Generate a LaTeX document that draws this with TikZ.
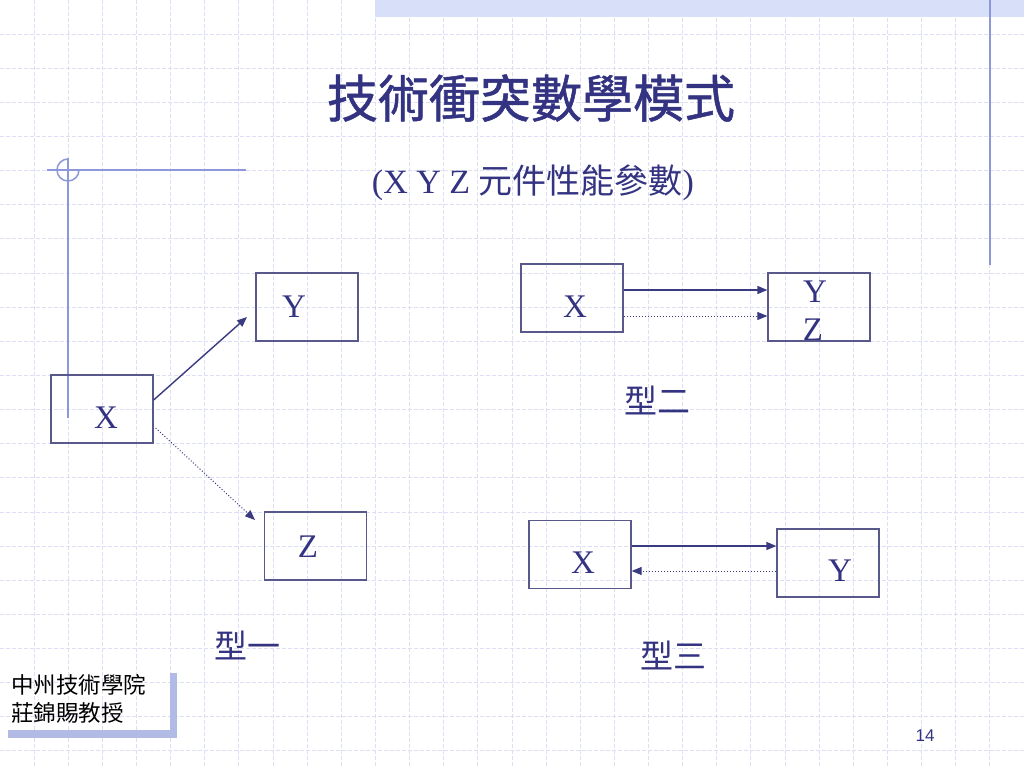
\documentclass[tikz,border=0pt]{standalone}
\usepackage{fontspec}
\setmainfont{Liberation Serif}
\newfontfamily\cjk{Noto Sans CJK TC}
\newfontfamily\cjkb[FakeBold=1]{Noto Sans CJK TC}
\newfontfamily\sansf{Liberation Sans}
\usetikzlibrary{arrows.meta}
\definecolor{gridc}{RGB}{220,223,243}
\definecolor{bandc}{RGB}{216,224,249}
\definecolor{decorc}{RGB}{140,152,218}
\definecolor{boxc}{RGB}{88,88,138}
\definecolor{arrc}{RGB}{58,58,128}
\definecolor{txtc}{RGB}{51,51,130}
\definecolor{shadc}{RGB}{178,186,230}
\tikzset{
  gridline/.style={draw=gridc, line width=1pt, dash pattern=on 4pt off 2pt},
  decor/.style={draw=decorc, line width=1.5pt},
  box/.style={draw=boxc, line width=1.3pt, minimum width=102pt, minimum height=68pt, inner sep=0pt},
  lett/.style={text=txtc, inner sep=0pt, font=\fontsize{33}{36}\selectfont},
  lab/.style={text=txtc, inner sep=0pt, font=\cjk\fontsize{33}{36}\selectfont},
  arr/.style={draw=arrc, line width=1.4pt, -{Triangle[length=10pt,width=8pt]}},
  darr/.style={draw=arrc, line width=1pt, dotted, -{Triangle[length=10pt,width=8pt]}}
}
\begin{document}
\begin{tikzpicture}[x=1pt,y=-1pt]
\useasboundingbox (0,0) rectangle (1024,768);
\fill[white] (0,0) rectangle (1024,768);
% grid
\foreach \k in {1,...,29} \draw[gridline] ({34.133*\k},0) -- ({34.133*\k},768);
\foreach \k in {1,...,22} \draw[gridline] (0,{34.133*\k}) -- (1024,{34.133*\k});
% decorations
\fill[bandc] (375,0) rectangle (1024,17);
\draw[decor] (990,0) -- (990,265);
\draw[decor] (47,170) -- (246,170);
\draw[decor] (68,158) -- (68,418);
\draw[decor] (79,170) arc[start angle=0,end angle=270,radius=11];
% title
\node[text=txtc, inner sep=0pt, font=\cjkb\fontsize{51}{56}\selectfont] (title) at (531,98) {技術衝突數學模式};
\node[text=txtc, inner sep=0pt, font=\fontsize{34}{36}\selectfont] (sub) at (533,183) {(X Y Z {\cjk 元件性能參數})};
% type 1
\node[box] (x1) at (102,409) {};
\node[box] (y1) at (307,307) {};
\node[box] (z1) at (315.5,546) {};
\node[lett] (tx1) at (106,418) {X};
\node[lett] (ty1) at (294,307) {Y};
\node[lett] (tz1) at (308,547) {Z};
\coordinate (e1) at (247,317);
\coordinate (e2) at (255,520);
\draw[arr] ([yshift=9pt]x1.east) -- (e1);
\draw[darr] ([xshift=2pt,yshift=-19pt]x1.east) -- (e2);
\node[lab] (l1) at (247,645) {型一};
% type 2
\node[box] (x2) at (572,298) {};
\node[box] (yz2) at (819,307) {};
\node[lett] (tx2) at (575,307) {X};
\node[lett] (ty2) at (815,292) {Y};
\node[lett] (tz2) at (813,330) {Z};
\draw[arr] ([yshift=8pt]x2.east) -- ([yshift=17pt]yz2.west);
\draw[darr] ([yshift=-18pt]x2.east) -- ([yshift=-9pt]yz2.west);
\node[lab] (l2) at (657,400) {型二};
% type 3
\node[box] (x3) at (580,554.5) {};
\node[box] (y3) at (828,563) {};
\node[lett] (tx3) at (583,563) {X};
\node[lett] (ty3) at (840,571) {Y};
\draw[arr] ([yshift=8.5pt]x3.east) -- ([yshift=17pt]y3.west);
\draw[darr] ([yshift=-8pt]y3.west) -- ([yshift=-16.5pt]x3.east);
\node[lab] (l3) at (673,655) {型三};
% footer
\fill[shadc] (170,673) rectangle (177,738);
\fill[shadc] (8,730) rectangle (177,738);
\node[anchor=west, align=left, inner sep=0pt, font=\cjk\fontsize{22.5}{27.5}\selectfont] (inst) at (11,699) {中州技術學院\\莊錦賜教授};
\node[text=txtc, inner sep=0pt, font=\sansf\fontsize{17}{20}\selectfont] (pg) at (925,736) {14};
\end{tikzpicture}
\end{document}
